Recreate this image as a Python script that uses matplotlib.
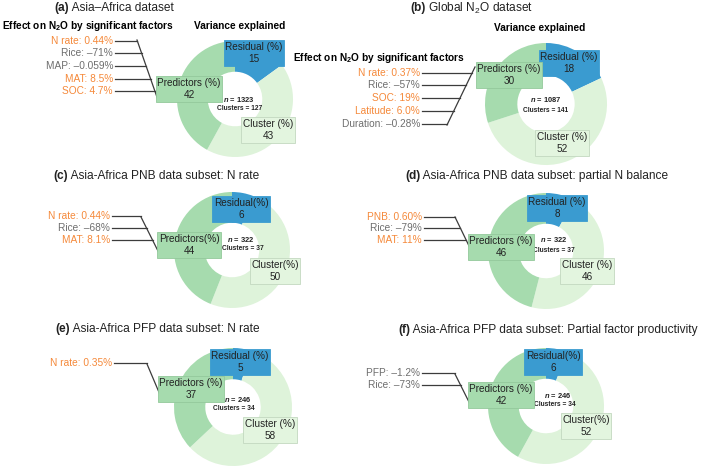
import matplotlib
matplotlib.use("Agg")
import matplotlib.pyplot as plt

plt.rcParams["font.family"] = ["Liberation Sans", "DejaVu Sans"]
plt.rcParams["mathtext.fontset"] = "custom"
plt.rcParams["mathtext.rm"] = "Liberation Sans"
plt.rcParams["mathtext.it"] = "Liberation Sans:italic"
plt.rcParams["mathtext.bf"] = "Liberation Sans:bold"
plt.rcParams["mathtext.bfit"] = "Liberation Sans:bold:italic"

W, H = 709, 468

# ── data ───────────────────────────────────────────────────────────────────────
TAGS = ["(a)", "(b)", "(c)", "(d)", "(e)", "(f)"]
TITLES = [
    "Asia–Africa dataset",
    "Global N$_2$O dataset",
    "Asia-Africa PNB data subset: N rate",
    "Asia-Africa PNB data subset: partial N balance",
    "Asia-Africa PFP data subset: N rate",
    "Asia-Africa PFP data subset: Partial factor productivity",
]
RESIDUAL   = [15, 18, 6, 8, 5, 6]
CLUSTER    = [43, 52, 50, 46, 58, 52]
PREDICTORS = [42, 30, 44, 46, 37, 42]
N_OBS      = [1323, 1087, 322, 322, 246, 246]
N_CLUSTERS = [127, 141, 37, 37, 34, 34]

FACTOR_NAMES = [
    ["N rate", "Rice", "MAP", "MAT", "SOC"],
    ["N rate", "Rice", "SOC", "Latitude", "Duration"],
    ["N rate", "Rice", "MAT"],
    ["PNB", "Rice", "MAT"],
    ["N rate"],
    ["PFP", "Rice"],
]
FACTOR_EFFECTS = [
    ["0.44%", "–71%", "–0.059%", "8.5%", "4.7%"],
    ["0.37%", "–57%", "19%", "6.0%", "–0.28%"],
    ["0.44%", "–68%", "8.1%"],
    ["0.60%", "–79%", "11%"],
    ["0.35%"],
    ["–1.2%", "–73%"],
]
# label text inside the boxes (spacing differs between panels)
BOX_NAMES = [
    ("Residual (%)", "Cluster (%)", "Predictors (%)"),
    ("Residual (%)", "Cluster (%)", "Predictors (%)"),
    ("Residual(%)", "Cluster(%)", "Predictors(%)"),
    ("Residual (%)", "Cluster (%)", "Predictors (%)"),
    ("Residual (%)", "Cluster (%)", "Predictors (%)"),
    ("Residual(%)", "Cluster(%)", "Predictors (%)"),
]

# ── style ──────────────────────────────────────────────────────────────────────
C_RES  = "#3a9bd0"
C_CLU  = "#def3da"
C_PRED = "#a6dbae"
C_POS  = "#f5893a"
C_NEG  = "#6e6e6e"
C_LINE = "#3c3c3c"
HOLE   = 0.53     # ring width as a fraction of the radius

# ── layout (pixel coordinates, y from top) ─────────────────────────────────────
LAYOUT = [
    dict(title=(54, 8), center=(235, 99), r=58,
         res=(254, 53), pred=(189, 89), clu=(268, 130),
         n=(239, 99), cl=(240, 108),
         fx=113, fy=[41, 53, 66, 79, 91], slant=((137, 40), (158, 100))),
    dict(title=(410, 8), center=(546, 104), r=61,
         res=(569, 63), pred=(509, 75), clu=(562, 143),
         n=(546, 100), cl=(546, 110),
         fx=420, fy=[73, 85, 98, 111, 124], slant=((475, 67), (447, 125))),
    dict(title=(53, 176), center=(232, 250), r=58,
         res=(241, 209), pred=(189, 245), clu=(275, 271),
         n=(241, 240), cl=(243, 249),
         fx=110, fy=[216, 228, 240], slant=((141, 217), (158, 251))),
    dict(title=(405, 176), center=(546, 251), r=58,
         res=(557, 208), pred=(501, 247), clu=(587, 271),
         n=(554, 240), cl=(554, 250),
         fx=422, fy=[217, 228, 240], slant=((455, 217), (471, 250))),
    dict(title=(55, 329), center=(233, 407), r=59,
         res=(240, 362), pred=(191, 389), clu=(270, 430),
         n=(238, 399), cl=(234, 408),
         fx=112, fy=[363], slant=((147, 364), (161, 397))),
    dict(title=(398, 330), center=(546, 406), r=58,
         res=(553, 362), pred=(501, 395), clu=(586, 426),
         n=(558, 395), cl=(555, 404),
         fx=420, fy=[373, 385], slant=((455, 374), (471, 406))),
]


def Y(py):
    return H - py


def box_label(ax, pos, name, val, fc, ec):
    ax.text(pos[0], Y(pos[1]), f"{name}\n{val}", ha="center", va="center",
            fontsize=7.2, linespacing=1.3, color="#222222", zorder=6,
            bbox=dict(boxstyle="square,pad=0.15", fc=fc, ec=ec, lw=0.6))


fig = plt.figure(figsize=(W / 100, H / 100), dpi=100)
ax = fig.add_axes([0, 0, 1, 1])

for i, lay in enumerate(LAYOUT):
    cx, cy = lay["center"]
    r = lay["r"]
    ax.pie([RESIDUAL[i], CLUSTER[i], PREDICTORS[i]],
           colors=[C_RES, C_CLU, C_PRED], startangle=90, counterclock=False,
           center=(cx, Y(cy)), radius=r,
           wedgeprops=dict(width=r * HOLE, edgecolor="none"))

    # title: bold tag + regular text
    tx, ty = lay["title"]
    t = ax.text(tx, Y(ty), TAGS[i], fontsize=8.6, fontweight="bold",
                ha="left", va="center", color="#222222")
    ax.annotate(" " + TITLES[i], xy=(1, 0.5), xycoords=t, ha="left",
                va="center", fontsize=8.6, color="#222222")

    rn, cn, pn = BOX_NAMES[i]
    box_label(ax, lay["res"], rn, RESIDUAL[i], C_RES, C_RES)
    box_label(ax, lay["pred"], pn, PREDICTORS[i], C_PRED, "#93c99b")
    box_label(ax, lay["clu"], cn, CLUSTER[i], "#e3f5df", "#c3d8c0")

    ax.text(lay["n"][0], Y(lay["n"][1]), f"$\\mathbfit{{n}}$ = {N_OBS[i]}",
            fontsize=5.4, fontweight="bold", ha="center", va="center",
            color="#222222", zorder=4)
    ax.text(lay["cl"][0], Y(lay["cl"][1]), f"Clusters = {N_CLUSTERS[i]}",
            fontsize=4.8, fontweight="bold", ha="center", va="center",
            color="#222222", zorder=4)

    # factor list with connector lines
    (x1, y1), (x2, y2) = lay["slant"]
    ax.plot([x1, x2], [Y(y1), Y(y2)], color=C_LINE, lw=0.9, zorder=3)
    for name, eff, fy in zip(FACTOR_NAMES[i], FACTOR_EFFECTS[i], lay["fy"]):
        col = C_NEG if eff.startswith("–") else C_POS
        ax.text(lay["fx"], Y(fy), f"{name}: {eff}", fontsize=7.3, color=col,
                ha="right", va="center")
        xs = x1 + (fy - y1) / (y2 - y1) * (x2 - x1)
        ax.plot([lay["fx"] + 2, xs], [Y(fy), Y(fy)], color=C_LINE, lw=0.9,
                zorder=3)

# section headers
ax.text(88, Y(26), "Effect on N$\\mathbf{_2}$O by significant factors",
        fontsize=7.3, fontweight="bold", ha="center", va="center")
ax.text(240, Y(26), "Variance explained", fontsize=7.3, fontweight="bold",
        ha="center", va="center")
ax.text(379, Y(58), "Effect on N$\\mathbf{_2}$O by significant factors",
        fontsize=7.3, fontweight="bold", ha="center", va="center")
ax.text(540, Y(28), "Variance explained", fontsize=7.3, fontweight="bold",
        ha="center", va="center")

ax.set_xlim(0, W)
ax.set_ylim(0, H)
ax.set_aspect("auto")
ax.axis("off")

fig.savefig("out.png", dpi=100)
